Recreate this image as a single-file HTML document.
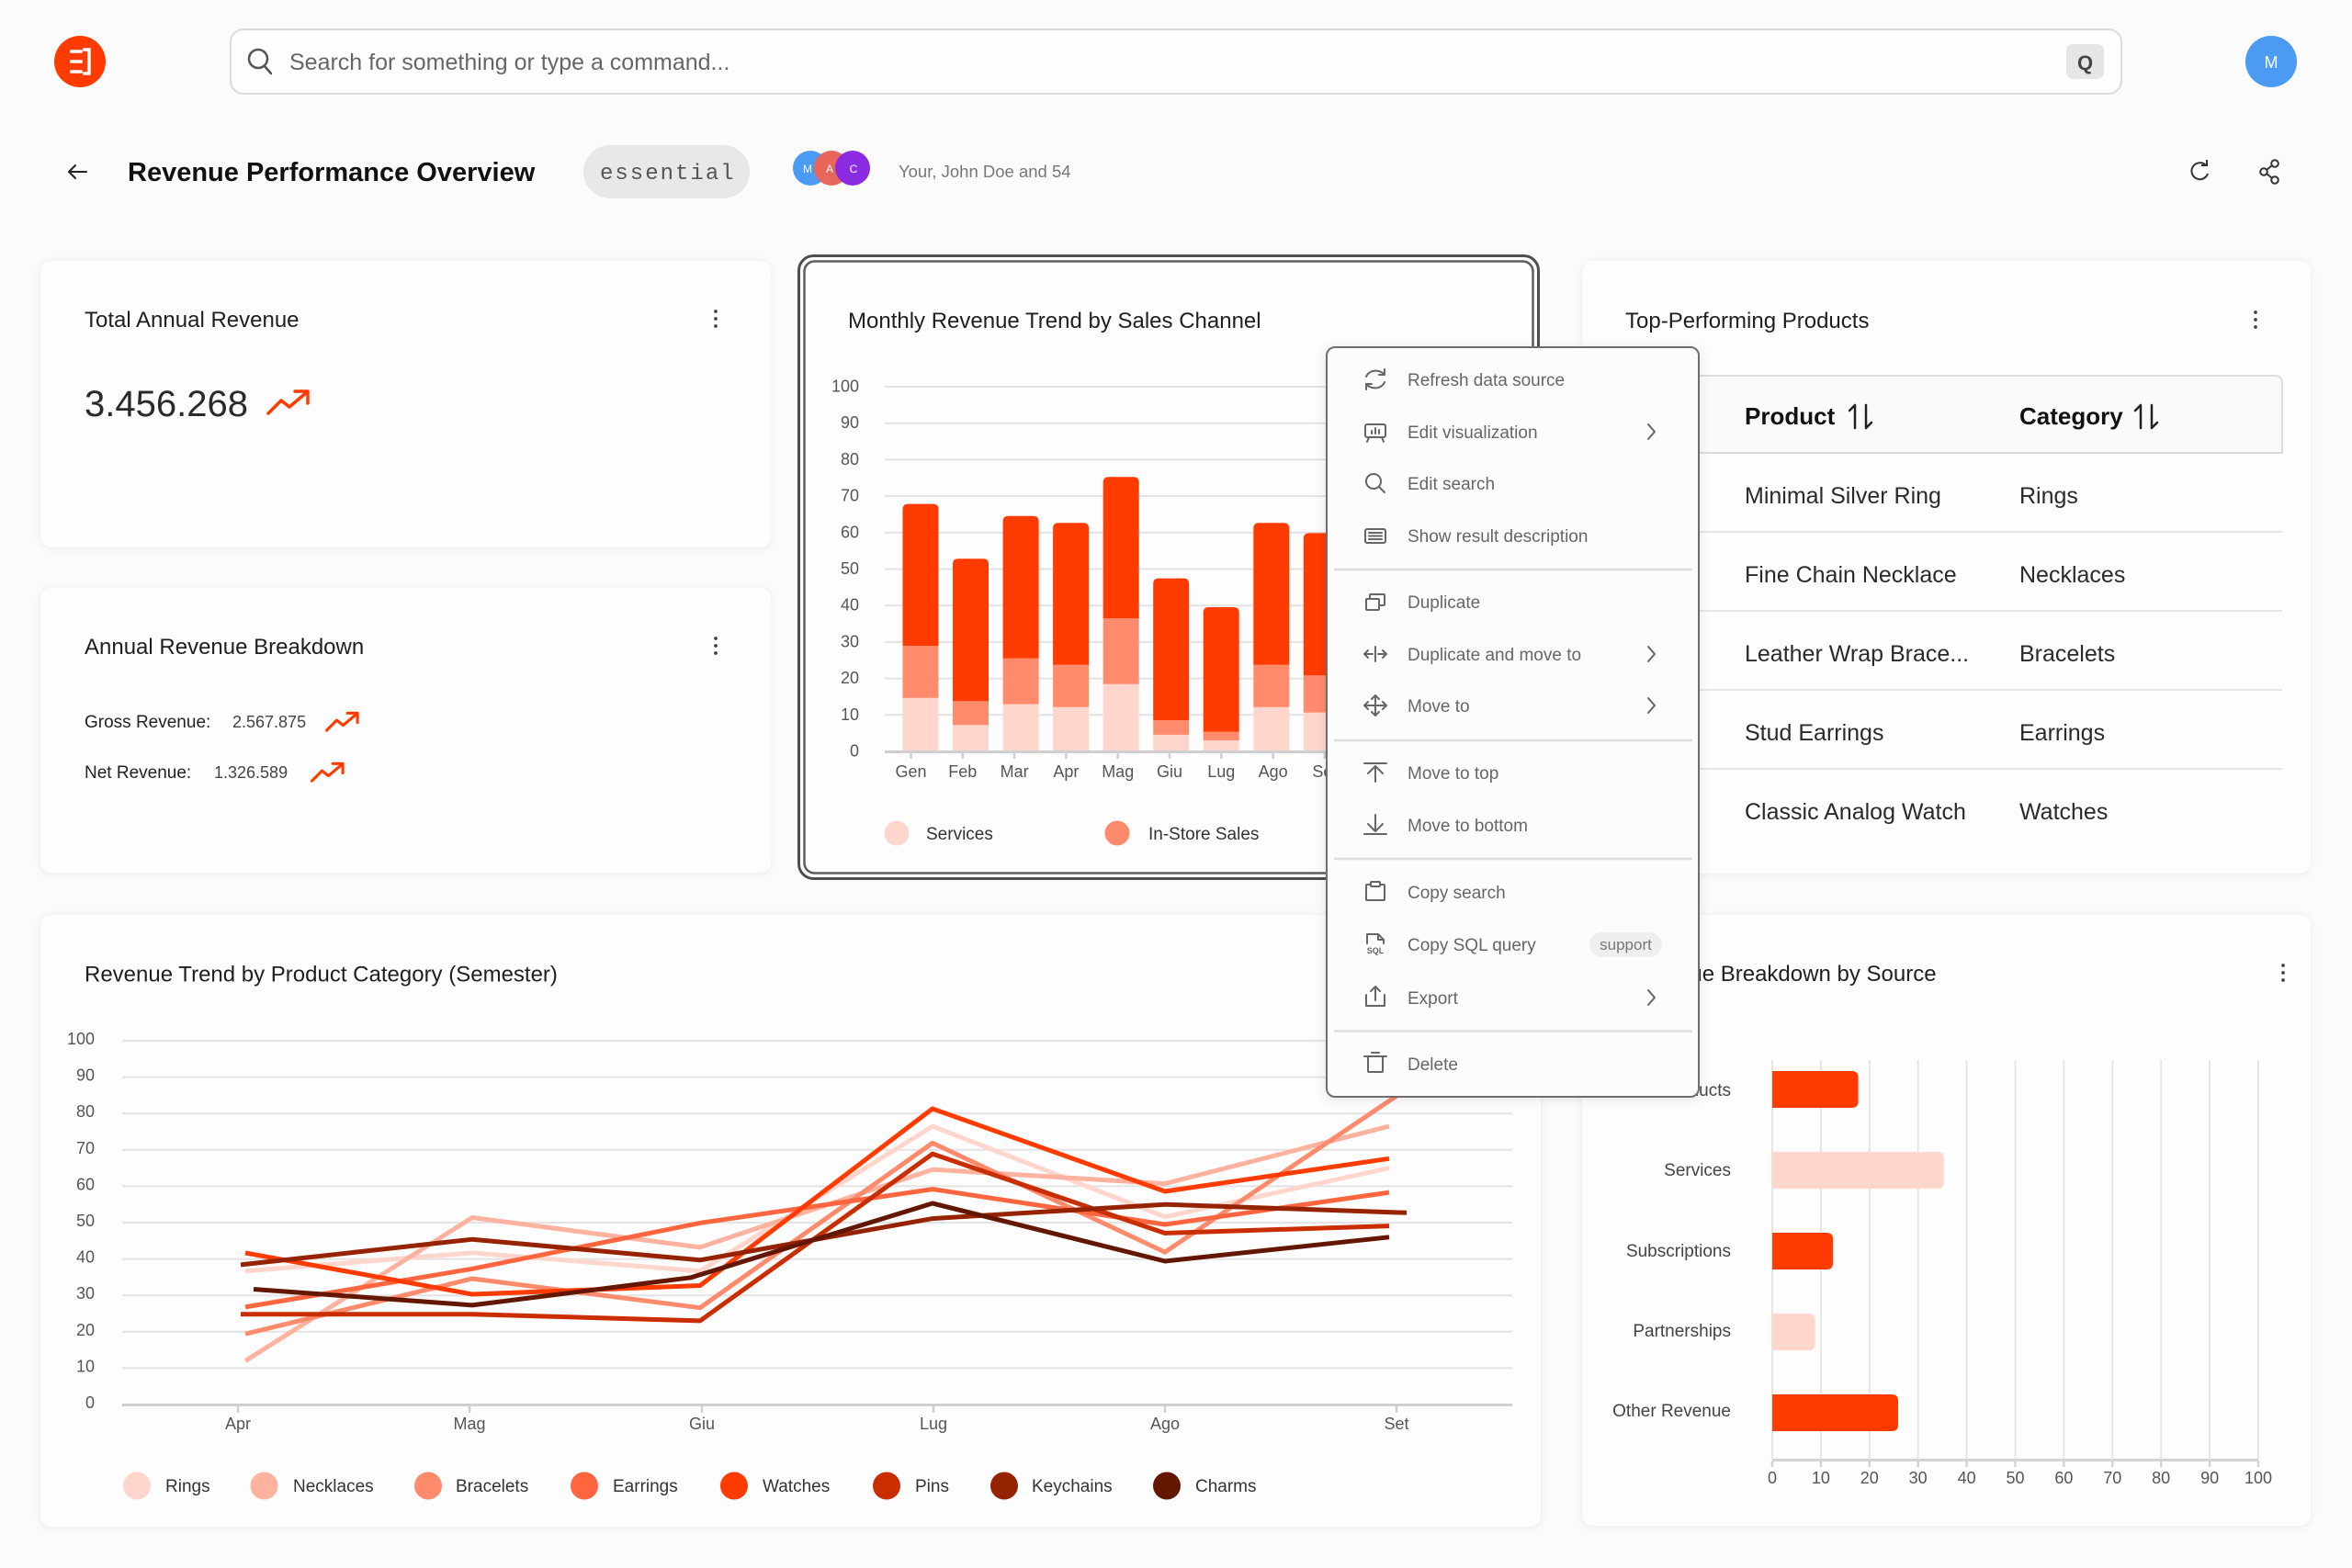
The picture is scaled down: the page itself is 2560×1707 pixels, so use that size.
<!DOCTYPE html>
<html>
<head>
<meta charset="utf-8">
<style>
  html,body{margin:0;padding:0;background:#fcfbfb;}
  body{width:2560px;height:1707px;overflow:hidden;}
  svg{display:block;}
  text{font-family:"Liberation Sans",sans-serif;}
</style>
</head>
<body>
<svg width="2560" height="1707" viewBox="0 0 2560 1707" xmlns="http://www.w3.org/2000/svg">
  <defs>
    <filter id="sh" x="-5%" y="-5%" width="110%" height="110%">
      <feDropShadow dx="0" dy="1" stdDeviation="4" flood-color="#000" flood-opacity="0.07"/>
    </filter>
    <filter id="msh" x="-10%" y="-10%" width="120%" height="120%">
      <feDropShadow dx="0" dy="2" stdDeviation="6" flood-color="#000" flood-opacity="0.10"/>
    </filter>
  </defs>

  <rect x="0" y="0" width="2560" height="1707" fill="#fcfbfb"/>

  <!-- ===== HEADER ===== -->
  <circle cx="87" cy="67" r="28" fill="#ff3b00"/>
  <path d="M78 56h10 M78 67h10 M78 78h10 M92 54h5v26h-5" stroke="#fff" stroke-width="3.5" fill="none" stroke-linecap="square"/>

  <rect x="251" y="32" width="2058" height="70" rx="14" fill="#fefefe" stroke="#dadada" stroke-width="2"/>
  <circle cx="281" cy="64" r="10" stroke="#555" stroke-width="2.5" fill="none"/>
  <line x1="288" y1="72" x2="295" y2="80" stroke="#555" stroke-width="2.5" stroke-linecap="round"/>
  <text x="315" y="76" font-size="25" fill="#666">Search for something or type a command...</text>
  <rect x="2249" y="48" width="41" height="38" rx="7" fill="#e8e6e5"/>
  <text x="2269.5" y="76" font-size="22" font-weight="bold" fill="#444" text-anchor="middle">Q</text>

  <circle cx="2472" cy="67" r="28" fill="#4b9bf5"/>
  <text x="2472" y="74" font-size="18" fill="#fff" text-anchor="middle">M</text>

  <!-- title row -->
  <path d="M94 187H75 M82 180L75 187L82 194" stroke="#222" stroke-width="2" fill="none" stroke-linecap="round" stroke-linejoin="round"/>
  <text x="139" y="197" font-size="29" font-weight="bold" fill="#111">Revenue Performance Overview</text>
  <rect x="635" y="158" width="181" height="58" rx="29" fill="#e9e8e6"/>
  <text x="653" y="195" font-size="24" fill="#555" style="font-family:'Liberation Mono',monospace" letter-spacing="2">essential</text>

  <circle cx="882" cy="183" r="19" fill="#4b9bf5"/>
  <circle cx="905" cy="183" r="19" fill="#e8665a"/>
  <circle cx="928" cy="183" r="19" fill="#8b2be2"/>
  <text x="879" y="188" font-size="12" fill="#fff" text-anchor="middle">M</text>
  <text x="903" y="188" font-size="12" fill="#fff" text-anchor="middle">A</text>
  <text x="929" y="188" font-size="12" fill="#fff" text-anchor="middle">C</text>
  <text x="978" y="193" font-size="18.5" fill="#777">Your, John Doe and 54</text>

  <path d="M2401 180 A9 9 0 1 0 2403 189" stroke="#333" stroke-width="2" fill="none"/>
  <path d="M2396 180 H2402 V174" stroke="#333" stroke-width="2" fill="none"/>
  <circle cx="2476" cy="178" r="3.8" stroke="#333" stroke-width="2" fill="none"/>
  <circle cx="2464" cy="187" r="3.8" stroke="#333" stroke-width="2" fill="none"/>
  <circle cx="2476" cy="196" r="3.8" stroke="#333" stroke-width="2" fill="none"/>
  <path d="M2467 185 L2473 180 M2467 189 L2473 194" stroke="#333" stroke-width="2"/>

  <!-- ===== CARDS ===== -->
  <rect x="44" y="284" width="795" height="312" rx="12" fill="#fefdfd" filter="url(#sh)"/>
  <rect x="44" y="640" width="795" height="310" rx="12" fill="#fefdfd" filter="url(#sh)"/>
  <rect x="1722" y="284" width="793" height="667" rx="12" fill="#fefdfd" filter="url(#sh)"/>
  <rect x="44" y="996" width="1633" height="666" rx="12" fill="#fefdfd" filter="url(#sh)"/>
  <rect x="1722" y="996" width="793" height="665" rx="12" fill="#fefdfd" filter="url(#sh)"/>

  <!-- selected card -->
  <rect x="869.5" y="278.5" width="805" height="678" rx="16" fill="#fefdfd" stroke="#4f4f4f" stroke-width="3"/>
  <rect x="875.5" y="284.5" width="793" height="666" rx="11" fill="#fefdfd" stroke="#5e5e5e" stroke-width="2.5"/>

  <!-- Card 1 -->
  <text x="92" y="356" font-size="24" fill="#1f1f1f">Total Annual Revenue</text>
  <circle cx="779" cy="339" r="1.9" fill="#444"/><circle cx="779" cy="347" r="1.9" fill="#444"/><circle cx="779" cy="355" r="1.9" fill="#444"/>
  <text x="92" y="453" font-size="40" fill="#2a2a2a">3.456.268</text>
  <g transform="translate(290,423)" stroke="#ff3b00" stroke-width="3.5" fill="none" stroke-linecap="round" stroke-linejoin="round">
    <polyline points="2,27 16,13 25,20 44,4"/><polyline points="31,3 45,3 45,16"/>
  </g>

  <!-- Card 2 -->
  <text x="92" y="712" font-size="24" fill="#1f1f1f">Annual Revenue Breakdown</text>
  <circle cx="779" cy="695" r="1.9" fill="#444"/><circle cx="779" cy="703" r="1.9" fill="#444"/><circle cx="779" cy="711" r="1.9" fill="#444"/>
  <text x="92" y="792" font-size="19" fill="#222">Gross Revenue:</text>
  <text x="253" y="792" font-size="18" fill="#444">2.567.875</text>
  <g transform="translate(354,774) scale(0.78)" stroke="#ff3b00" stroke-width="4" fill="none" stroke-linecap="round" stroke-linejoin="round">
    <polyline points="2,27 16,13 25,20 44,4"/><polyline points="31,3 45,3 45,16"/>
  </g>
  <text x="92" y="847" font-size="19" fill="#222">Net Revenue:</text>
  <text x="233" y="847" font-size="18" fill="#444">1.326.589</text>
  <g transform="translate(338,829) scale(0.78)" stroke="#ff3b00" stroke-width="4" fill="none" stroke-linecap="round" stroke-linejoin="round">
    <polyline points="2,27 16,13 25,20 44,4"/><polyline points="31,3 45,3 45,16"/>
  </g>

  <!-- ===== Card 3: Monthly Revenue chart ===== -->
  <text x="923" y="357" font-size="24" fill="#1f1f1f">Monthly Revenue Trend by Sales Channel</text>
  <g stroke="#e2e2e2" stroke-width="2">
    <line x1="963" y1="778.3" x2="1640" y2="778.3"/>
    <line x1="963" y1="738.6" x2="1640" y2="738.6"/>
    <line x1="963" y1="698.9" x2="1640" y2="698.9"/>
    <line x1="963" y1="659.2" x2="1640" y2="659.2"/>
    <line x1="963" y1="619.5" x2="1640" y2="619.5"/>
    <line x1="963" y1="579.8" x2="1640" y2="579.8"/>
    <line x1="963" y1="540.1" x2="1640" y2="540.1"/>
    <line x1="963" y1="500.4" x2="1640" y2="500.4"/>
    <line x1="963" y1="460.7" x2="1640" y2="460.7"/>
    <line x1="963" y1="421" x2="1640" y2="421"/>
  </g>
  <g font-size="18" fill="#555" text-anchor="end">
    <text x="935" y="823.5">0</text>
    <text x="935" y="783.8">10</text>
    <text x="935" y="744.1">20</text>
    <text x="935" y="704.4">30</text>
    <text x="935" y="664.7">40</text>
    <text x="935" y="625">50</text>
    <text x="935" y="585.3">60</text>
    <text x="935" y="545.6">70</text>
    <text x="935" y="505.9">80</text>
    <text x="935" y="466.2">90</text>
    <text x="935" y="426.5">100</text>
  </g>
  <!-- bars -->
  <g fill="#ffd6cc">
    <rect x="982.5" y="759.8" width="39" height="57.2"/>
    <rect x="1037" y="789.2" width="39" height="27.8"/>
    <rect x="1091.6" y="766.6" width="39" height="50.4"/>
    <rect x="1146.1" y="769.8" width="39" height="47.2"/>
    <rect x="1200.7" y="744.7" width="39" height="72.3"/>
    <rect x="1255.2" y="799.9" width="39" height="17.1"/>
    <rect x="1309.7" y="805.9" width="39" height="11.1"/>
    <rect x="1364.3" y="769.8" width="39" height="47.2"/>
    <rect x="1418.8" y="775.7" width="39" height="41.3"/>
  </g>
  <g fill="#ff8a6c">
    <rect x="982.5" y="703.1" width="39" height="56.7"/>
    <rect x="1037" y="763.4" width="39" height="25.8"/>
    <rect x="1091.6" y="716.6" width="39" height="50"/>
    <rect x="1146.1" y="723.7" width="39" height="46.1"/>
    <rect x="1200.7" y="673.3" width="39" height="71.4"/>
    <rect x="1255.2" y="784" width="39" height="15.9"/>
    <rect x="1309.7" y="796.8" width="39" height="9.1"/>
    <rect x="1364.3" y="723.7" width="39" height="46.1"/>
    <rect x="1418.8" y="735.2" width="39" height="40.5"/>
  </g>
  <g fill="#ff3b00">
    <path d="M982.5 703.1 V554.6 Q982.5 548.6 988.5 548.6 H1015.5 Q1021.5 548.6 1021.5 554.6 V703.1 Z"/>
    <path d="M1037 763.4 V614.2 Q1037 608.2 1043 608.2 H1070 Q1076 608.2 1076 614.2 V763.4 Z"/>
    <path d="M1091.6 716.6 V567.7 Q1091.6 561.7 1097.6 561.7 H1124.6 Q1130.6 561.7 1130.6 567.7 V716.6 Z"/>
    <path d="M1146.1 723.7 V575.3 Q1146.1 569.3 1152.1 569.3 H1179.1 Q1185.1 569.3 1185.1 575.3 V723.7 Z"/>
    <path d="M1200.7 673.3 V525.3 Q1200.7 519.3 1206.7 519.3 H1233.7 Q1239.7 519.3 1239.7 525.3 V673.3 Z"/>
    <path d="M1255.2 784 V635.6 Q1255.2 629.6 1261.2 629.6 H1288.2 Q1294.2 629.6 1294.2 635.6 V784 Z"/>
    <path d="M1309.7 796.8 V667 Q1309.7 661 1315.7 661 H1342.7 Q1348.7 661 1348.7 667 V796.8 Z"/>
    <path d="M1364.3 723.7 V575.3 Q1364.3 569.3 1370.3 569.3 H1397.3 Q1403.3 569.3 1403.3 575.3 V723.7 Z"/>
    <path d="M1418.8 735.2 V586.4 Q1418.8 580.4 1424.8 580.4 H1451.8 Q1457.8 580.4 1457.8 586.4 V735.2 Z"/>
  </g>
  <line x1="963" y1="818.5" x2="1640" y2="818.5" stroke="#cfcfcf" stroke-width="3"/>
  <g stroke="#cfcfcf" stroke-width="2.5">
    <line x1="991.5" y1="819" x2="991.5" y2="826"/>
    <line x1="1047.8" y1="819" x2="1047.8" y2="826"/>
    <line x1="1104.1" y1="819" x2="1104.1" y2="826"/>
    <line x1="1160.4" y1="819" x2="1160.4" y2="826"/>
    <line x1="1216.7" y1="819" x2="1216.7" y2="826"/>
    <line x1="1273" y1="819" x2="1273" y2="826"/>
    <line x1="1329.3" y1="819" x2="1329.3" y2="826"/>
    <line x1="1385.6" y1="819" x2="1385.6" y2="826"/>
    <line x1="1441.9" y1="819" x2="1441.9" y2="826"/>
  </g>
  <g font-size="18" fill="#555" text-anchor="middle">
    <text x="991.5" y="846">Gen</text>
    <text x="1047.8" y="846">Feb</text>
    <text x="1104.1" y="846">Mar</text>
    <text x="1160.4" y="846">Apr</text>
    <text x="1216.7" y="846">Mag</text>
    <text x="1273" y="846">Giu</text>
    <text x="1329.3" y="846">Lug</text>
    <text x="1385.6" y="846">Ago</text>
    <text x="1441.9" y="846">Set</text>
  </g>
  <circle cx="976" cy="907" r="13.5" fill="#ffd6cc"/>
  <text x="1008" y="914" font-size="19" fill="#333">Services</text>
  <circle cx="1216" cy="907" r="13.5" fill="#ff8a6c"/>
  <text x="1250" y="914" font-size="19" fill="#333">In-Store Sales</text>

  <!-- ===== Card 4: Table ===== -->
  <text x="1769" y="357" font-size="24" fill="#1f1f1f">Top-Performing Products</text>
  <circle cx="2455" cy="340" r="1.9" fill="#444"/><circle cx="2455" cy="348" r="1.9" fill="#444"/><circle cx="2455" cy="356" r="1.9" fill="#444"/>
  <path d="M1769 493 V417 Q1769 409 1777 409 H2476 Q2484 409 2484 417 V493 Z" fill="#fbfafa" stroke="#dcdcdc" stroke-width="2"/>
  <text x="1899" y="462" font-size="26" font-weight="bold" fill="#111">Product</text>
  <text x="2198" y="462" font-size="26" font-weight="bold" fill="#111">Category</text>
  <g stroke="#222" stroke-width="2.5" fill="none" stroke-linecap="round" stroke-linejoin="round">
    <path d="M2019 466 V441 M2013 447 L2019 441"/>
    <path d="M2031 441 V466 M2037 460 L2031 466"/>
    <path d="M2330 466 V441 M2324 447 L2330 441"/>
    <path d="M2342 441 V466 M2348 460 L2342 466"/>
  </g>
  <g stroke="#e6e6e6" stroke-width="2">
    <line x1="1769" y1="579" x2="2484" y2="579"/>
    <line x1="1769" y1="665" x2="2484" y2="665"/>
    <line x1="1769" y1="751" x2="2484" y2="751"/>
    <line x1="1769" y1="837" x2="2484" y2="837"/>
  </g>
  <g font-size="25" fill="#2a2a2a">
    <text x="1899" y="548">Minimal Silver Ring</text>
    <text x="2198" y="548">Rings</text>
    <text x="1899" y="634">Fine Chain Necklace</text>
    <text x="2198" y="634">Necklaces</text>
    <text x="1899" y="720">Leather Wrap Brace...</text>
    <text x="2198" y="720">Bracelets</text>
    <text x="1899" y="806">Stud Earrings</text>
    <text x="2198" y="806">Earrings</text>
    <text x="1899" y="892">Classic Analog Watch</text>
    <text x="2198" y="892">Watches</text>
  </g>

  <!-- ===== Card 5: Line chart ===== -->
  <text x="92" y="1068.5" font-size="24" fill="#1f1f1f">Revenue Trend by Product Category (Semester)</text>
  <g stroke="#e3e3e3" stroke-width="2">
    <line x1="133" y1="1489.4" x2="1646" y2="1489.4"/>
    <line x1="133" y1="1449.8" x2="1646" y2="1449.8"/>
    <line x1="133" y1="1410.2" x2="1646" y2="1410.2"/>
    <line x1="133" y1="1370.6" x2="1646" y2="1370.6"/>
    <line x1="133" y1="1331" x2="1646" y2="1331"/>
    <line x1="133" y1="1291.4" x2="1646" y2="1291.4"/>
    <line x1="133" y1="1251.8" x2="1646" y2="1251.8"/>
    <line x1="133" y1="1212.2" x2="1646" y2="1212.2"/>
    <line x1="133" y1="1172.6" x2="1646" y2="1172.6"/>
    <line x1="133" y1="1133" x2="1646" y2="1133"/>
  </g>
  <line x1="133" y1="1529.5" x2="1646" y2="1529.5" stroke="#d0d0d0" stroke-width="3"/>
  <g stroke="#d0d0d0" stroke-width="2.5">
    <line x1="259" y1="1530" x2="259" y2="1538"/>
    <line x1="511" y1="1530" x2="511" y2="1538"/>
    <line x1="764" y1="1530" x2="764" y2="1538"/>
    <line x1="1016" y1="1530" x2="1016" y2="1538"/>
    <line x1="1268" y1="1530" x2="1268" y2="1538"/>
    <line x1="1520" y1="1530" x2="1520" y2="1538"/>
  </g>
  <g font-size="18" fill="#555" text-anchor="end">
    <text x="103" y="1533">0</text>
    <text x="103" y="1493.4">10</text>
    <text x="103" y="1453.8">20</text>
    <text x="103" y="1414.2">30</text>
    <text x="103" y="1374.6">40</text>
    <text x="103" y="1335">50</text>
    <text x="103" y="1295.4">60</text>
    <text x="103" y="1255.8">70</text>
    <text x="103" y="1216.2">80</text>
    <text x="103" y="1176.6">90</text>
    <text x="103" y="1137">100</text>
  </g>
  <g font-size="18" fill="#555" text-anchor="middle">
    <text x="259" y="1556">Apr</text>
    <text x="511" y="1556">Mag</text>
    <text x="764" y="1556">Giu</text>
    <text x="1016" y="1556">Lug</text>
    <text x="1268" y="1556">Ago</text>
    <text x="1520" y="1556">Set</text>
  </g>
  <g fill="none" stroke-width="5" stroke-linejoin="round">
    <polyline stroke="#ffd5cc" points="267,1383.7 514,1363.9 762,1383.7 1015,1226.1 1268,1324.7 1512,1271.6"/>
    <polyline stroke="#ffb29e" points="267,1481.5 514,1325.5 762,1357.9 1015,1273.2 1268,1288.6 1512,1226.1"/>
    <polyline stroke="#ff8a6c" points="267,1452.2 514,1392 762,1423.7 1015,1244.3 1268,1363.1 1532,1185"/>
    <polyline stroke="#ff6640" points="267,1422.9 514,1381.3 762,1331.4 1015,1294.6 1268,1333 1512,1298.1"/>
    <polyline stroke="#ff3b00" points="267,1363.9 514,1409 762,1399.5 1015,1207 1268,1297 1512,1261.3"/>
    <polyline stroke="#c92d00" points="262,1430.8 514,1430.8 762,1437.9 1015,1256.2 1268,1342.5 1512,1334.6"/>
    <polyline stroke="#962300" points="262,1376.9 514,1349.2 762,1371.8 1015,1326.6 1268,1311.2 1531,1320.3"/>
    <polyline stroke="#631700" points="276,1403.5 514,1420.9 752,1390.8 1015,1310 1268,1373 1512,1346.8"/>
  </g>
  <g font-size="19" fill="#333">
    <circle cx="149" cy="1617.5" r="15" fill="#ffd5cc"/><text x="180" y="1624">Rings</text>
    <circle cx="287.5" cy="1617.5" r="15" fill="#ffb29e"/><text x="319" y="1624">Necklaces</text>
    <circle cx="466" cy="1617.5" r="15" fill="#ff8a6c"/><text x="496" y="1624">Bracelets</text>
    <circle cx="636" cy="1617.5" r="15" fill="#ff6640"/><text x="667" y="1624">Earrings</text>
    <circle cx="799" cy="1617.5" r="15" fill="#ff3b00"/><text x="830" y="1624">Watches</text>
    <circle cx="965" cy="1617.5" r="15" fill="#c92d00"/><text x="996" y="1624">Pins</text>
    <circle cx="1093" cy="1617.5" r="15" fill="#962300"/><text x="1123" y="1624">Keychains</text>
    <circle cx="1270" cy="1617.5" r="15" fill="#631700"/><text x="1301" y="1624">Charms</text>
  </g>

  <!-- ===== Card 6: horizontal bars ===== -->
  <text x="1770" y="1068" font-size="24" fill="#1f1f1f">Revenue Breakdown by Source</text>
  <circle cx="2485" cy="1051" r="1.9" fill="#444"/><circle cx="2485" cy="1059" r="1.9" fill="#444"/><circle cx="2485" cy="1067" r="1.9" fill="#444"/>
  <g stroke="#e6e6e6" stroke-width="2">
    <line x1="1929" y1="1154" x2="1929" y2="1588"/>
    <line x1="1981.9" y1="1154" x2="1981.9" y2="1588"/>
    <line x1="2034.8" y1="1154" x2="2034.8" y2="1588"/>
    <line x1="2087.7" y1="1154" x2="2087.7" y2="1588"/>
    <line x1="2140.6" y1="1154" x2="2140.6" y2="1588"/>
    <line x1="2193.5" y1="1154" x2="2193.5" y2="1588"/>
    <line x1="2246.4" y1="1154" x2="2246.4" y2="1588"/>
    <line x1="2299.3" y1="1154" x2="2299.3" y2="1588"/>
    <line x1="2352.2" y1="1154" x2="2352.2" y2="1588"/>
    <line x1="2405.1" y1="1154" x2="2405.1" y2="1588"/>
    <line x1="2458" y1="1154" x2="2458" y2="1588"/>
  </g>
  <line x1="1929" y1="1589.5" x2="2458" y2="1589.5" stroke="#d3d3d3" stroke-width="3"/>
  <g stroke="#d3d3d3" stroke-width="2.5">
    <line x1="1929" y1="1590" x2="1929" y2="1597"/>
    <line x1="1981.9" y1="1590" x2="1981.9" y2="1597"/>
    <line x1="2034.8" y1="1590" x2="2034.8" y2="1597"/>
    <line x1="2087.7" y1="1590" x2="2087.7" y2="1597"/>
    <line x1="2140.6" y1="1590" x2="2140.6" y2="1597"/>
    <line x1="2193.5" y1="1590" x2="2193.5" y2="1597"/>
    <line x1="2246.4" y1="1590" x2="2246.4" y2="1597"/>
    <line x1="2299.3" y1="1590" x2="2299.3" y2="1597"/>
    <line x1="2352.2" y1="1590" x2="2352.2" y2="1597"/>
    <line x1="2405.1" y1="1590" x2="2405.1" y2="1597"/>
    <line x1="2458" y1="1590" x2="2458" y2="1597"/>
  </g>
  <g font-size="18" fill="#555" text-anchor="middle">
    <text x="1929" y="1615">0</text>
    <text x="1981.9" y="1615">10</text>
    <text x="2034.8" y="1615">20</text>
    <text x="2087.7" y="1615">30</text>
    <text x="2140.6" y="1615">40</text>
    <text x="2193.5" y="1615">50</text>
    <text x="2246.4" y="1615">60</text>
    <text x="2299.3" y="1615">70</text>
    <text x="2352.2" y="1615">80</text>
    <text x="2405.1" y="1615">90</text>
    <text x="2458" y="1615">100</text>
  </g>
  <path fill="#ff3b00" d="M1929 1166 H2015.6 Q2022.6 1166 2022.6 1173 V1199 Q2022.6 1206 2015.6 1206 H1929 Z"/>
  <path fill="#ffd6cc" d="M1929 1254 H2108.7 Q2115.7 1254 2115.7 1261 V1287 Q2115.7 1294 2108.7 1294 H1929 Z"/>
  <path fill="#ff3b00" d="M1929 1342 H1988.1 Q1995.1 1342 1995.1 1349 V1375 Q1995.1 1382 1988.1 1382 H1929 Z"/>
  <path fill="#ffd6cc" d="M1929 1430 H1968.6 Q1975.6 1430 1975.6 1437 V1463 Q1975.6 1470 1968.6 1470 H1929 Z"/>
  <path fill="#ff3b00" d="M1929 1518 H2059 Q2066 1518 2066 1525 V1551 Q2066 1558 2059 1558 H1929 Z"/>
  <g font-size="19" fill="#444" text-anchor="end">
    <text x="1884" y="1193">Products</text>
    <text x="1884" y="1280">Services</text>
    <text x="1884" y="1368">Subscriptions</text>
    <text x="1884" y="1455">Partnerships</text>
    <text x="1884" y="1542">Other Revenue</text>
  </g>

  <!-- ===== CONTEXT MENU ===== -->
  <rect x="1444" y="378" width="405" height="816" rx="9" fill="#fdfcfc" stroke="#6e6e6e" stroke-width="2" filter="url(#msh)"/>
  <g stroke="#dedede" stroke-width="2.5">
    <line x1="1452" y1="620" x2="1842" y2="620"/>
    <line x1="1452" y1="806" x2="1842" y2="806"/>
    <line x1="1452" y1="935" x2="1842" y2="935"/>
    <line x1="1452" y1="1122.5" x2="1842" y2="1122.5"/>
  </g>
  <g font-size="19" fill="#666">
    <text x="1532" y="420">Refresh data source</text>
    <text x="1532" y="477">Edit visualization</text>
    <text x="1532" y="533">Edit search</text>
    <text x="1532" y="590">Show result description</text>
    <text x="1532" y="662">Duplicate</text>
    <text x="1532" y="719">Duplicate and move to</text>
    <text x="1532" y="775">Move to</text>
    <text x="1532" y="848">Move to top</text>
    <text x="1532" y="905">Move to bottom</text>
    <text x="1532" y="978">Copy search</text>
    <text x="1532" y="1035">Copy SQL query</text>
    <text x="1532" y="1093">Export</text>
    <text x="1532" y="1165">Delete</text>
  </g>
  <rect x="1730" y="1015" width="79" height="27" rx="13.5" fill="#f0eeee"/>
  <text x="1769.5" y="1034" font-size="17" fill="#777" text-anchor="middle">support</text>
  <g stroke="#666" stroke-width="2" fill="none" stroke-linecap="round" stroke-linejoin="round">
    <path d="M1794 462 L1801 470 L1794 478"/>
    <path d="M1794 704 L1801 712 L1794 720"/>
    <path d="M1794 760 L1801 768 L1794 776"/>
    <path d="M1794 1078 L1801 1086 L1794 1094"/>
    <path d="M1487 410 A11 9 0 0 1 1507 408 M1507 402 V408 H1501"/>
    <path d="M1507 416 A11 9 0 0 1 1487 418 M1487 424 V418 H1493"/>
    <rect x="1486" y="462" width="22" height="14" rx="2"/>
    <path d="M1493 472 V469 M1497 472 V466 M1501 472 V468 M1490 476 L1488 481 M1504 476 L1506 481"/>
    <circle cx="1495" cy="524" r="8"/>
    <path d="M1501 530 L1507 536"/>
    <rect x="1486" y="576" width="22" height="15" rx="2"/>
    <path d="M1490 580 H1504 M1490 583.5 H1504 M1490 587 H1504"/>
    <rect x="1491" y="647" width="16" height="12" rx="1"/>
    <rect x="1487" y="652" width="14" height="12" rx="1" fill="#fdfcfc"/>
    <path d="M1497 704 V720 M1485 712 H1494 M1489 708 L1485 712 L1489 716 M1500 712 H1509 M1505 708 L1509 712 L1505 716"/>
    <path d="M1485 768 H1509 M1497 757 V779 M1489 764 L1485 768 L1489 772 M1505 764 L1509 768 L1505 772 M1493 761 L1497 757 L1501 761 M1493 775 L1497 779 L1501 775"/>
    <path d="M1485 831 H1509 M1497 851 V834 M1489 842 L1497 834 L1505 842"/>
    <path d="M1485 908 H1509 M1497 887 V905 M1489 897 L1497 905 L1505 897"/>
    <rect x="1487" y="963" width="20" height="17" rx="1"/>
    <rect x="1492" y="960" width="10" height="5" rx="1" fill="#fdfcfc"/>
    <path d="M1488 1027 V1017 H1500 L1506 1023 V1027 M1500 1017 V1023 H1506"/>
    <path d="M1487 1083 V1095 H1507 V1083 M1497 1089 V1074 M1492 1079 L1497 1074 L1502 1079"/>
    <path d="M1485 1150 H1509 M1493 1146 H1501"/>
    <rect x="1489" y="1150" width="16" height="17" rx="1"/>
  </g>
  <text x="1497" y="1038" font-size="9" font-weight="bold" fill="#666" text-anchor="middle">SQL</text>
</svg>
</body>
</html>
